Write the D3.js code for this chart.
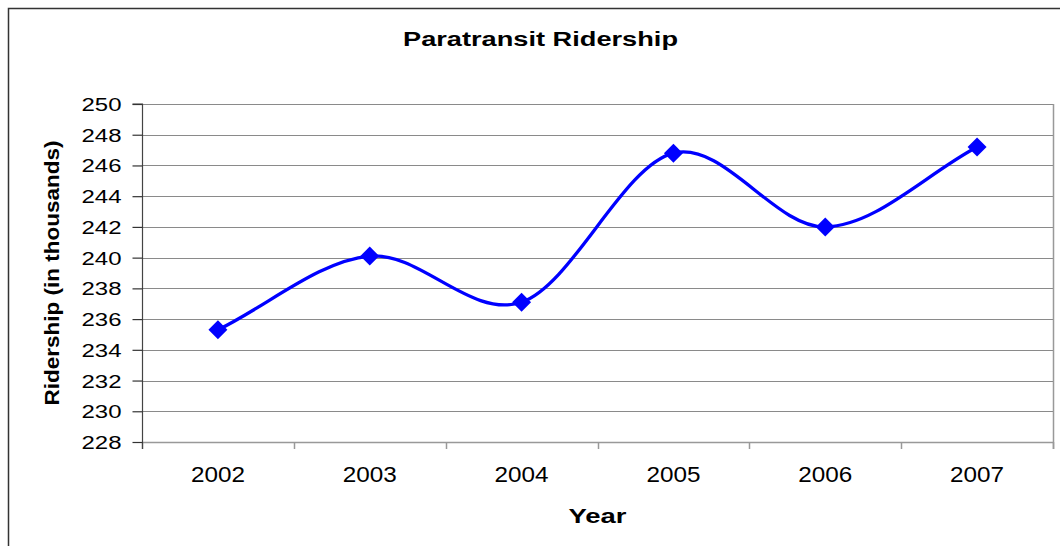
<!DOCTYPE html>
<html>
<head>
<meta charset="utf-8">
<script src="https://cdn.jsdelivr.net/npm/d3@7"></script>
<style>
  html, body { margin: 0; padding: 0; background: #fff; }
  svg { display: block; }
</style>
</head>
<body>
<svg id="chart" width="1060" height="546"></svg>
<script>
// ---- data ----
const years = ["2002", "2003", "2004", "2005", "2006", "2007"];
const ridership = [235.3, 240.1, 237.1, 246.8, 242.0, 247.2];
const yTicks = [228, 230, 232, 234, 236, 238, 240, 242, 244, 246, 248, 250];
const titleText = "Paratransit Ridership";
const xTitle = "Year";
const yTitle = "Ridership (in thousands)";

// ---- layout ----
const plot = { left: 142, right: 1053, top: 104, bottom: 442 };
const svg = d3.select("#chart");
const FONT = "'Liberation Sans', Arial, sans-serif";

// Excel-like smoothed curve: Catmull-Rom with reflected phantom end points
function excelSmooth(context) {
  let pts;
  return {
    areaStart() {}, areaEnd() {},
    lineStart() { pts = []; },
    point(x, y) { pts.push([+x, +y]); },
    lineEnd() {
      const n = pts.length;
      if (!n) return;
      context.moveTo(pts[0][0], pts[0][1]);
      if (n === 1) return;
      const get = i => {
        if (i < 0) return [2 * pts[0][0] - pts[1][0], 2 * pts[0][1] - pts[1][1]];
        if (i >= n) return [2 * pts[n - 1][0] - pts[n - 2][0], 2 * pts[n - 1][1] - pts[n - 2][1]];
        return pts[i];
      };
      for (let i = 0; i < n - 1; i++) {
        const p0 = get(i - 1), p1 = get(i), p2 = get(i + 1), p3 = get(i + 2);
        const c1 = [p1[0] + (p2[0] - p0[0]) / 6, p1[1] + (p2[1] - p0[1]) / 6];
        const c2 = [p2[0] - (p3[0] - p1[0]) / 6, p2[1] - (p3[1] - p1[1]) / 6];
        context.bezierCurveTo(c1[0], c1[1], c2[0], c2[1], p2[0], p2[1]);
      }
    }
  };
}

// outer chart border
svg.append("rect")
  .attr("x", 8.5).attr("y", 8.5)
  .attr("width", 1100).attr("height", 600)
  .attr("fill", "#fff").attr("stroke", "#333").attr("stroke-width", 1.5);

const x = d3.scaleBand().domain(years).range([plot.left, plot.right]).paddingInner(0).paddingOuter(0);
const y = d3.scaleLinear().domain([228, 250]).range([plot.bottom, plot.top]);

// gridlines
svg.append("g").selectAll("line").data(yTicks).join("line")
  .attr("x1", plot.left).attr("x2", plot.right)
  .attr("y1", d => Math.round(y(d)) + 0.5).attr("y2", d => Math.round(y(d)) + 0.5)
  .attr("stroke", "#8a8a8a").attr("stroke-width", 1);

// right plot border
svg.append("line")
  .attr("x1", plot.right + 0.5).attr("x2", plot.right + 0.5)
  .attr("y1", plot.top).attr("y2", plot.bottom + 7)
  .attr("stroke", "#999").attr("stroke-width", 1.5);

// x axis with ticks at band boundaries
const xAxisG = svg.append("g");
xAxisG.append("line")
  .attr("x1", plot.left).attr("x2", plot.right)
  .attr("y1", plot.bottom + 0.5).attr("y2", plot.bottom + 0.5)
  .attr("stroke", "#999").attr("stroke-width", 1.5);
const bounds = years.map(d => x(d)).concat([x(years[years.length - 1]) + x.bandwidth()]);
xAxisG.selectAll("line.tk").data(bounds).join("line").attr("class", "tk")
  .attr("x1", d => Math.round(d) + 0.5).attr("x2", d => Math.round(d) + 0.5)
  .attr("y1", plot.bottom).attr("y2", plot.bottom + 7)
  .attr("stroke", "#999").attr("stroke-width", 1.5);
xAxisG.selectAll("text").data(years).join("text")
  .attr("x", d => x(d) + x.bandwidth() / 2)
  .attr("y", 482)
  .attr("text-anchor", "middle")
  .attr("font-family", FONT).attr("font-size", 22)
  .attr("textLength", 54).attr("lengthAdjust", "spacingAndGlyphs")
  .attr("fill", "#000")
  .text(d => d);

// y axis
const yAxis = d3.axisLeft(y).tickValues(yTicks).tickSize(10).tickPadding(11).tickFormat(d3.format("d"));
const yAxisG = svg.append("g").attr("transform", `translate(${plot.left + 0.5},0)`).call(yAxis);
yAxisG.select(".domain").attr("stroke", "#444").attr("stroke-width", 1.2)
  .attr("d", `M-10,${plot.top}H0V${plot.bottom + 7}`);
yAxisG.selectAll(".tick line").attr("stroke", "#333").attr("stroke-width", 1.2);
yAxisG.selectAll(".tick text")
  .attr("font-family", FONT).attr("font-size", 18)
  .attr("fill", "#000")
  .attr("dy", "0.36em")
  .attr("textLength", 40).attr("lengthAdjust", "spacingAndGlyphs");
yAxisG.attr("font-size", null).attr("font-family", null);

// line
const line = d3.line()
  .x((d, i) => x(years[i]) + x.bandwidth() / 2)
  .y(d => y(d))
  .curve(excelSmooth);
svg.append("path")
  .datum(ridership)
  .attr("d", line)
  .attr("fill", "none")
  .attr("stroke", "#0000ff")
  .attr("stroke-width", 3.3)
  .attr("stroke-linejoin", "round");

// markers (diamonds)
const sym = d3.symbol().type(d3.symbolSquare).size(180);
svg.append("g").selectAll("path").data(ridership).join("path")
  .attr("d", sym)
  .attr("transform", (d, i) => `translate(${x(years[i]) + x.bandwidth() / 2},${y(d)}) rotate(45)`)
  .attr("fill", "#0000ff");

// titles
svg.append("text")
  .attr("x", 540.5).attr("y", 46)
  .attr("text-anchor", "middle")
  .attr("font-family", FONT).attr("font-weight", "bold").attr("font-size", 20)
  .attr("textLength", 275).attr("lengthAdjust", "spacingAndGlyphs")
  .text(titleText);

svg.append("text")
  .attr("x", (plot.left + plot.right) / 2).attr("y", 523)
  .attr("text-anchor", "middle")
  .attr("font-family", FONT).attr("font-weight", "bold").attr("font-size", 21)
  .attr("textLength", 58).attr("lengthAdjust", "spacingAndGlyphs")
  .text(xTitle);

svg.append("text")
  .attr("transform", `translate(59,${(plot.top + plot.bottom) / 2}) rotate(-90)`)
  .attr("text-anchor", "middle")
  .attr("font-family", FONT).attr("font-weight", "bold").attr("font-size", 20.5)
  .attr("textLength", 265).attr("lengthAdjust", "spacingAndGlyphs")
  .text(yTitle);
</script>
</body>
</html>
